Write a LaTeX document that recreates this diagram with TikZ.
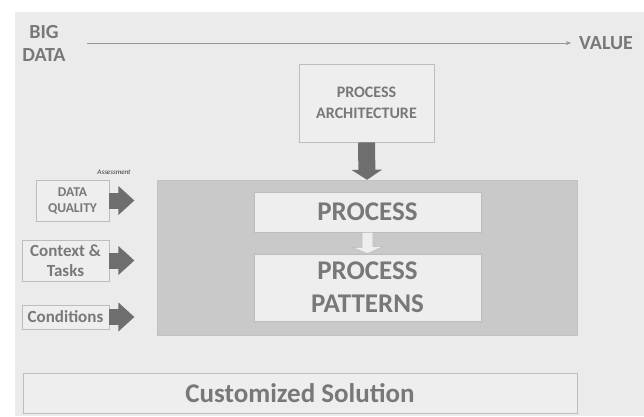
\documentclass[tikz,border=0pt]{standalone}
\usepackage{fontspec}
\setmainfont{Carlito}
\usepackage{tikz}
\usetikzlibrary{arrows.meta}

\definecolor{panelgray}{HTML}{EBEBEB}
\definecolor{boxgray}{HTML}{EEEEEE}
\definecolor{linegray}{HTML}{BDBDBD}
\definecolor{coregray}{HTML}{C9C9C9}
\definecolor{textgray}{HTML}{787878}
\definecolor{arrowgray}{HTML}{6E6E6E}

\begin{document}
\begin{tikzpicture}[x=1pt, y=-1pt,
    box/.style={draw=linegray, fill=boxgray, text=textgray, font=\bfseries, align=center, inner sep=0pt, line width=0.8pt},
    label/.style={text=textgray, font=\bfseries, align=center, inner sep=0pt},
    blockarrow/.style={arrowgray, line width=16pt, -{Triangle[length=16pt, width=28pt]}}]
    \useasboundingbox (0,0) rectangle (644,416);

    % Background panel
    \fill[panelgray] (15,12) rectangle (644,416);

    % From big data to value
    \node[label, font=\bfseries\fontsize{20}{23}\selectfont] (bigdata) at (44,43) {BIG\\DATA};
    \node[label, font=\bfseries\fontsize{20}{23}\selectfont] (value) at (606,43) {VALUE};
    \draw[linegray!80!black, line width=0.6pt, -{Stealth[length=5pt, width=4pt]}] ([xshift=21pt]bigdata.east) -- ([xshift=-8pt]value.west);

    % Process architecture on top
    \node[box, minimum width=135pt, minimum height=78pt, font=\bfseries\fontsize{16}{21}\selectfont] (arch) at (366.5,103) {PROCESS\\ARCHITECTURE};

    % The core region with process and patterns
    \node[fill=coregray, draw=coregray!96!black, minimum width=420pt, minimum height=155pt, inner sep=0pt] (core) at (367,257.5) {};
    \node[box, minimum width=227pt, minimum height=40pt, font=\bfseries\fontsize{27}{33}\selectfont] (proc) at (367.5,212) {PROCESS};
    \node[box, minimum width=227pt, minimum height=67pt, font=\bfseries\fontsize{27}{33}\selectfont] (pat) at (367.5,287.5) {PROCESS\\PATTERNS};

    % Arrow into the core
    \draw[arrowgray, line width=17pt, -{Triangle[length=10pt, width=30pt]}] (arch.south) -- (core.north);

    % Hollow arrow from process to patterns
    \draw[fill=boxgray, draw=linegray, line width=0.6pt] ([xshift=-5.5pt]proc.south) -- ++(0,15) -- ++(-10,0) -- (pat.north) -- ++(15.5,-7) -- ++(-10,0) -- ([xshift=5.5pt]proc.south) -- cycle;

    % Inputs on the left
    \node[box, minimum width=73pt, minimum height=41pt, font=\bfseries\fontsize{13.5}{16}\selectfont] (dq) at (72.5,200.5) {DATA\\QUALITY};
    \node[text=black!80, font=\itshape\fontsize{7}{8}\selectfont, inner sep=0pt] (assess) at (114,172) {Assessment};
    \node[box, minimum width=87pt, minimum height=41pt, font=\bfseries\fontsize{17}{19.5}\selectfont] (ctx) at (65.5,260.5) {Context \&\\Tasks};
    \node[box, minimum width=87pt, minimum height=24pt, font=\bfseries\fontsize{17}{19.5}\selectfont] (cond) at (65.5,317) {Conditions};

    \draw[blockarrow] (dq.east) -- ++(25,0);
    \draw[blockarrow] (ctx.east) -- ++(25,0);
    \draw[blockarrow] (cond.east) -- ++(25,0);

    % The solution at the bottom
    \node[box, minimum width=554pt, minimum height=40pt, font=\bfseries\fontsize{27}{33}\selectfont] (sol) at (300,393) {Customized Solution};
\end{tikzpicture}
\end{document}
